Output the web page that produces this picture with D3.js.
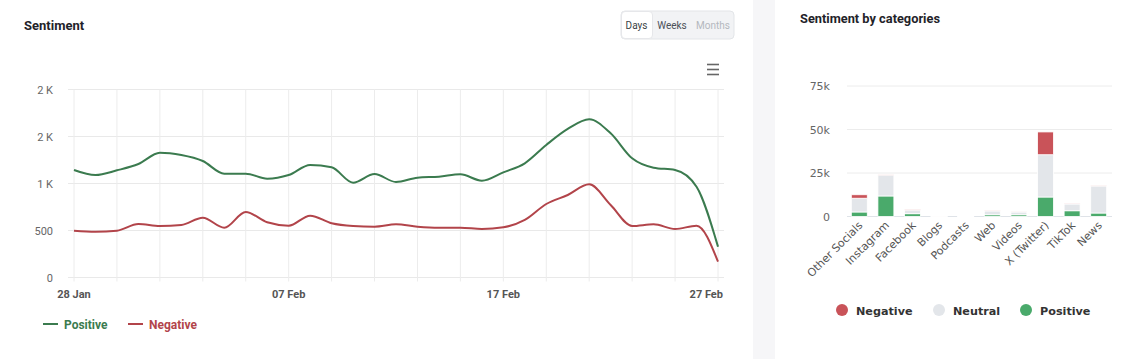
<!DOCTYPE html>
<html>
<head>
<meta charset="utf-8">
<script src="https://cdn.jsdelivr.net/npm/d3@7"></script>
<style>
  html, body { margin: 0; padding: 0; background: #fff; }
  svg { display: block; }
</style>
</head>
<body>
<svg id="chart" width="1140" height="359"></svg>
<script>
// ---- data: daily sentiment ----
const startDate = new Date(2024, 0, 28);
const positive = [1144, 1090, 1140, 1207, 1328, 1303, 1239, 1105, 1105, 1051, 1090,
  1197, 1172, 1009, 1101, 1016, 1062, 1073, 1098, 1030, 1119, 1215, 1410, 1580,
  1683, 1534, 1268, 1168, 1144, 966, 328];
const negative = [498, 487, 498, 569, 548, 559, 636, 530, 697, 587, 551,
  658, 577, 548, 541, 566, 541, 530, 530, 516, 534, 612, 782, 878,
  991, 771, 548, 566, 516, 551, 168];
const yTicks = [0, 500, 1000, 1500, 2000];
const yTickLabels = ["0", "500", "1 K", "2 K", "2 K"];
const xTickLabels = ["28 Jan", "07 Feb", "17 Feb", "27 Feb"];

// ---- data: sentiment by categories ----
const categories = ["Other Socials", "Instagram", "Facebook", "Blogs", "Podcasts",
  "Web", "Videos", "X (Twitter)", "TikTok", "News"];
const catPositive = [2600, 11800, 1600, 60, 30, 1000, 1000, 11200, 3300, 2000];
const catNeutral = [7900, 12000, 2100, 80, 40, 2200, 1600, 24300, 3900, 15500];
const catNegative = [2000, 100, 200, 10, 5, 100, 50, 13100, 100, 100];
const catTicks = [0, 25000, 50000, 75000];
const catTickLabels = ["0", "25k", "50k", "75k"];

const green = "#3b7b4f", red = "#b2444a";
const svg = d3.select("#chart");

svg.append("rect").attr("x", 753).attr("y", 0).attr("width", 22).attr("height", 359)
  .attr("fill", "#f6f6f8");

// ================= left: line chart =================
const left = svg.append("g").style("font-family", "Roboto, sans-serif");

left.append("text").attr("x", 24).attr("y", 30)
  .attr("font-size", 13).attr("font-weight", 700).attr("fill", "#1f2329")
  .text("Sentiment");

// period buttons
const btns = left.append("g");
btns.append("rect").attr("x", 621).attr("y", 11).attr("width", 113).attr("height", 28)
  .attr("rx", 4).attr("fill", "#f2f3f5").attr("stroke", "#e3e5e8");
btns.append("rect").attr("x", 621.5).attr("y", 11.5).attr("width", 31).attr("height", 27)
  .attr("rx", 3.5).attr("fill", "#fff").attr("stroke", "#e6e7ea");
[["Days", 636.5, "#3b3f45"], ["Weeks", 672, "#4b5058"], ["Months", 713, "#b4b8be"]]
  .forEach(([t, x, c]) => {
    btns.append("text").attr("x", x).attr("y", 28.5).attr("text-anchor", "middle")
      .attr("font-size", 10).attr("font-weight", 400).attr("fill", c).text(t);
  });

// menu icon
[64.5, 69.5, 74.5].forEach(y => {
  left.append("line").attr("x1", 707).attr("x2", 719).attr("y1", y).attr("y2", y)
    .attr("stroke", "#666").attr("stroke-width", 1.6);
});

const days = positive.map((_, i) => d3.timeDay.offset(startDate, i));
const x = d3.scaleTime().domain([days[0], days[days.length - 1]]).range([74, 718]);
const y = d3.scaleLinear().domain([0, 2000]).range([277.5, 89.5]);

// grid
left.append("g").selectAll("line").data(yTicks).join("line")
  .attr("x1", 68).attr("x2", 724)
  .attr("y1", d => y(d)).attr("y2", d => y(d))
  .attr("stroke", "#e9e9e9");
left.append("g").selectAll("line").data(d3.range(0, days.length, 2)).join("line")
  .attr("x1", i => x(days[i])).attr("x2", i => x(days[i]))
  .attr("y1", y(2000)).attr("y2", y(0) + 4)
  .attr("stroke", "#ececec");

left.append("g").selectAll("text").data(yTicks).join("text")
  .attr("x", 53).attr("y", d => y(d) + 4)
  .attr("text-anchor", "end").attr("font-size", 11).attr("fill", "#666")
  .text((d, i) => yTickLabels[i]);

const xTickDays = [0, 10, 20, 30];
left.append("g").selectAll("text").data(xTickDays).join("text")
  .attr("x", (d, i) => i === 3 ? x(days[d]) + 5 : x(days[d]))
  .attr("y", 298)
  .attr("text-anchor", (d, i) => i === 3 ? "end" : "middle")
  .attr("font-size", 11).attr("font-weight", 700).attr("fill", "#555")
  .text((d, i) => xTickLabels[i]);

const line = d3.line().x((d, i) => x(days[i])).y(d => y(d)).curve(d3.curveMonotoneX);
left.append("path").datum(positive).attr("d", line)
  .attr("fill", "none").attr("stroke", green).attr("stroke-width", 2);
left.append("path").datum(negative).attr("d", line)
  .attr("fill", "none").attr("stroke", red).attr("stroke-width", 2);

// legend
[["Positive", green, 43], ["Negative", red, 128]].forEach(([t, c, lx]) => {
  left.append("line").attr("x1", lx).attr("x2", lx + 15).attr("y1", 324).attr("y2", 324)
    .attr("stroke", c).attr("stroke-width", 2);
  left.append("text").attr("x", lx + 21).attr("y", 328.5)
    .attr("font-size", 12).attr("font-weight", 700).attr("fill", c).text(t);
});

// ================= right: stacked bars =================
const right = svg.append("g").style("font-family", "'DejaVu Sans', sans-serif");

right.append("text").attr("x", 800).attr("y", 23)
  .attr("font-family", "Roboto, sans-serif")
  .attr("font-size", 12.8).attr("font-weight", 700).attr("fill", "#1f2329")
  .text("Sentiment by categories");

const xb = d3.scaleBand().domain(categories).range([846, 1112]).paddingInner(0.4).paddingOuter(0.2);
const yb = d3.scaleLinear().domain([0, 75000]).range([216.5, 86]);

right.append("g").selectAll("line").data(catTicks).join("line")
  .attr("x1", 847).attr("x2", 1112)
  .attr("y1", d => yb(d)).attr("y2", d => yb(d))
  .attr("stroke", d => d === 0 ? "#dfe3e8" : "#ececec");

right.append("g").selectAll("text").data(catTicks).join("text")
  .attr("x", 830).attr("y", d => yb(d) + 4)
  .attr("text-anchor", "end").attr("font-size", 11).attr("fill", "#666")
  .text((d, i) => catTickLabels[i]);

const rows = categories.map((c, i) => ({
  cat: c, Positive: catPositive[i], Neutral: catNeutral[i], Negative: catNegative[i]
}));
const keys = ["Positive", "Neutral", "Negative"];
const colors = { Positive: "#4aaa6b", Neutral: "#e3e6ea", Negative: "#c95359" };
const stack = d3.stack().keys(keys)(rows);

right.append("g").selectAll("g").data(stack).join("g")
  .attr("fill", s => colors[s.key])
  .selectAll("rect").data(s => s).join("rect")
  .attr("x", d => xb(d.data.cat))
  .attr("width", xb.bandwidth())
  .attr("y", d => yb(d[1]))
  .attr("height", d => Math.max(0, yb(d[0]) - yb(d[1])))
  .attr("stroke", "#fff").attr("stroke-width", 0.8);

right.append("g").selectAll("text").data(categories).join("text")
  .attr("transform", d => `translate(${xb(d) + xb.bandwidth() / 2 + 4},${226}) rotate(-45)`)
  .attr("text-anchor", "end").attr("font-size", 11).attr("fill", "#555")
  .text(d => d);

// legend
[["Negative", colors.Negative, 842], ["Neutral", colors.Neutral, 939], ["Positive", colors.Positive, 1026]]
  .forEach(([t, c, cx]) => {
    right.append("circle").attr("cx", cx).attr("cy", 310).attr("r", 6).attr("fill", c);
    right.append("text").attr("x", cx + 14).attr("y", 314.5)
      .attr("font-size", 11.2).attr("font-weight", 700).attr("fill", "#333").text(t);
  });
</script>
</body>
</html>
